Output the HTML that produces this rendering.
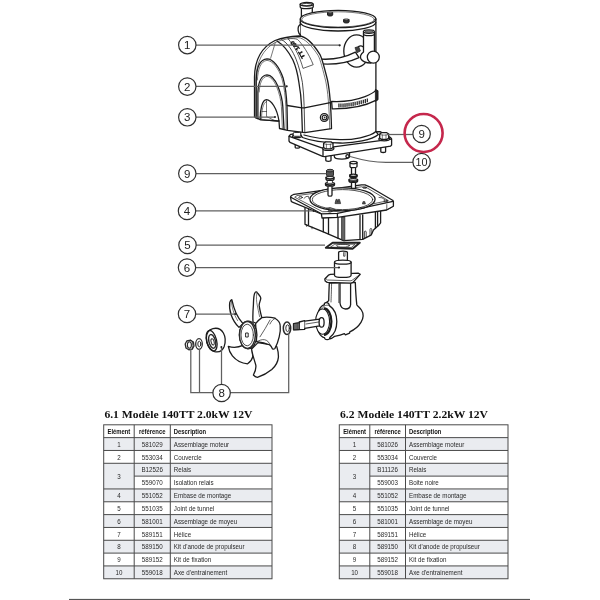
<!DOCTYPE html>
<html>
<head>
<meta charset="utf-8">
<title>140TT parts diagram</title>
<style>
html,body{margin:0;padding:0;background:#fff;}
body{width:600px;height:600px;overflow:hidden;font-family:"Liberation Sans",sans-serif;}
svg{display:block;filter:blur(0.55px);}
.l{fill:none;stroke:#1c1c1c;stroke-width:1.3;stroke-linecap:round;stroke-linejoin:round;}
.w{fill:#fff;stroke:#1c1c1c;stroke-width:1.3;stroke-linecap:round;stroke-linejoin:round;}
.ld{fill:none;stroke:#606060;stroke-width:1.25;}
.c{fill:#fff;stroke:#303030;stroke-width:1.2;}
.n{font-family:"Liberation Sans",sans-serif;font-size:11.5px;fill:#222;text-anchor:middle;}
.g{stroke:#4a4a4a;stroke-width:1;fill:none;}
.t{font-family:"Liberation Sans",sans-serif;font-size:7px;fill:#2a2a2a;}
.b{font-weight:bold;fill:#111;}
.m{text-anchor:middle;}
.h{font-family:"Liberation Serif",serif;font-weight:bold;font-size:11.4px;fill:#111;}
</style>
</head>
<body>
<svg width="600" height="600" viewBox="0 0 600 600">
<rect x="0" y="0" width="600" height="600" fill="#fff"/>
<!-- bottom rule -->
<rect x="69" y="598.9" width="461" height="1.6" fill="#555"/>


<!-- ===== motor base plate ===== -->
<g id="baseplate">
<!-- feet/bolts under -->
<path class="w" d="M325.8,155 V160.3 A2.6,1 0 0 0 331,160.3 V155 Z"/>
<path class="w" d="M380.8,146.5 V151.5 A2.4,1 0 0 0 385.6,151.5 V146.5 Z"/>
<path class="w" d="M295.2,144 V147.4 A2.1,0.8 0 0 0 299.4,147.4 V144 Z"/>
<!-- coupling under plate -->
<path class="w" d="M334.3,152 V156.5 A7.6,2.6 0 0 0 349.5,156.5 V151 Z"/>
<circle class="l" cx="347.5" cy="156.3" r="1.6"/>
<!-- plate -->
<path class="w" d="M289,136.2 L290.6,134.4 L300,133.4 L380,131.6 L390.6,137.6 L391.6,139 V145 L390.6,146.2 L324.6,156.6 L322.6,156.4 L290,142.4 L289,141 Z"/>
<path class="l" d="M289.2,136.4 L321.8,147.9 L324.2,148.2 L391.4,139.2"/>
<path class="l" d="M323,148.2 V156.4"/>
</g>

<!-- ===== motor (1) ===== -->
<g id="motor">
<!-- rear-left terminal post -->
<path class="w" d="M301.4,7 V17 H312.3 V7 Z"/>
<path class="w" d="M300.2,4.2 V7 A6.5,1.7 0 0 0 313.2,7 V4.2 Z"/>
<ellipse class="w" cx="306.7" cy="4.3" rx="6.5" ry="1.8"/>
<ellipse class="l" cx="306.7" cy="4.5" rx="5" ry="1.1" style="stroke-width:.7"/>
<!-- cylinder body -->
<path class="w" d="M300.3,19 V134 L302.5,137.5 C310,140.5 325,142.7 340,143 C354,143.4 372,140 378.4,134.6 L375.9,131.5 V19 Z"/>
<!-- little lug on left -->
<path class="w" d="M300.3,24.6 C298.4,25.4 297.9,28 298.2,30.6 C298.5,32.6 299.3,34 300.3,34.6"/>
<!-- lower lip of top cap -->
<path class="l" d="M300.3,22.3 A37.75,8.7 0 0 0 375.8,22.3"/>
<!-- top cap -->
<ellipse class="w" cx="338.1" cy="19" rx="37.8" ry="8.7"/>
<ellipse class="l" cx="338.1" cy="19.4" rx="36.3" ry="7.6" style="stroke-width:.6"/>
<!-- top bolts -->
<path d="M327.5,12.6 V15 A2.6,1 0 0 0 332.7,15 V12.6 Z" fill="#333" stroke="#1c1c1c" stroke-width="1"/><ellipse cx="330.1" cy="12.8" rx="2.1" ry="0.7" fill="#aaa" stroke="#1c1c1c" stroke-width=".6"/>
<path d="M343.6,19.4 V22 A2.75,1 0 0 0 349.1,22 V19.4 Z" fill="#333" stroke="#1c1c1c" stroke-width="1"/><ellipse cx="346.3" cy="19.6" rx="2.2" ry="0.7" fill="#aaa" stroke="#1c1c1c" stroke-width=".6"/>
<!-- side boss circle -->
<ellipse class="w" cx="356.6" cy="51" rx="12.8" ry="16.2"/>
<!-- cable -->
<path class="w" d="M314,58.4 C325,60 341,59.6 355.4,52.2 L359,57.6 C345,64.2 328,65 314,63.2 Z"/>
<!-- right terminal post + elbow -->
<path class="w" d="M363.5,32 V52 C361,54 359.8,56.4 360.8,58.6 C362.4,61.6 366.4,63 371,63 L375.4,53 L374.4,50 V32 Z"/>
<ellipse class="w" cx="368.9" cy="31.6" rx="5.5" ry="1.8"/>
<ellipse cx="368.9" cy="31.7" rx="4" ry="1" fill="#888" stroke="#2b2b2b" stroke-width=".6"/>
<path class="l" d="M363.5,34 A5.45,1.7 0 0 0 374.4,34"/>
<circle class="w" cx="373.3" cy="57.1" r="6"/>
<!-- connector -->
<path d="M355,47.6 L358.6,46.6 L360.4,51 L356.8,52.8 Z" fill="#444" stroke="#2b2b2b" stroke-width=".8"/>
<path class="l" d="M358.6,46.6 C360,45.6 362,46 363.4,47"/>
<!-- hose clamp band -->
<path class="w" d="M331.6,101.4 C343,102 356,100 365,96.6 C370,94.6 374,92.4 375.8,90.4 L377.6,91 V99.4 L375.8,100.4 C366,105.6 349,109 332.2,108.8 Z"/>
<path d="M375.4,89.4 L377.9,90.6 V99.8 L375.4,101.4 Z" fill="#222" stroke="#1c1c1c" stroke-width=".8" stroke-linejoin="round"/>
<g fill="#222"><path d="M338.3,103.6h1.25v3.8h-1.25z M340.3,103.5h1.25v3.8h-1.25z M342.4,103.4h1.25v3.8h-1.25z M344.4,103.2h1.25v3.8h-1.25z M346.4,103.0h1.25v3.8h-1.25z M348.4,102.7h1.25v3.8h-1.25z M350.5,102.4h1.25v3.8h-1.25z M352.5,102.1h1.25v3.8h-1.25z M354.5,101.7h1.25v3.8h-1.25z M356.6,101.3h1.25v3.8h-1.25z M358.6,100.8h1.25v3.8h-1.25z M360.6,100.3h1.25v3.8h-1.25z M362.7,99.7h1.25v3.8h-1.25z M364.7,99.1h1.25v3.8h-1.25z M366.7,98.5h1.25v3.8h-1.25z"/></g>
<!-- bottom flange arc -->
<path class="l" d="M375.9,131.5 C370,137 352,140 340,139.6 C326,139.3 312,137.5 304,135"/>
</g>

<!-- ===== cover (2) ===== -->
<g id="cover">
<!-- silhouette fill -->
<path class="w" d="M254.5,117 L254.5,77 C254.8,60 262,47 275,40.5 C283,37.5 292,36.3 299,36 C306,36 314,45 320,54.6 C322,58 325,70 327.5,80 C329.6,90 331,106 331.5,128.6 L304.8,132.6 L287.5,130.3 L279.5,128.5 L279,121 L260.2,119.6 Z"/>
<!-- inner parallel of silhouette -->
<path class="l" style="stroke-width:.6" d="M256,118 L256,78 C256.4,62 263,49 275.5,42.3 C283,39.3 291,38 298,37.6 C304.6,37.8 312.4,46.4 318.2,55.6 C320.2,59 323.2,71 325.7,81 C327.8,91 329.2,106 329.7,128.8"/>
<!-- crease -->
<path class="l" style="stroke-width:.6" d="M275.3,42.6 L270.6,58.3"/>
<!-- A2 arch (double) -->
<path class="l" d="M256.2,118.3 L256.2,80 C256.5,68 260,59.3 267,58.8 C273,58.8 279.5,67 283.2,78.3 C285.6,87 286.6,97 287,106.6 L287.5,129.6"/>
<path class="l" style="stroke-width:.6" d="M257.4,80 C257.8,69 261,60.8 267,60.4 C272.5,60.6 278.5,68 282,78.8 C284.4,87.5 285.4,97 285.8,106.6 L286.2,129.2"/>
<!-- A3 arch (double) -->
<path class="l" d="M257.9,118.8 L257.9,92 C258.3,82 261.5,75 267,74.8 C271,75 275,79.5 277.8,86 C280.6,93 282.4,100 282.8,106.6 L284,128.9"/>
<path class="l" style="stroke-width:.6" d="M259.2,92 C259.6,83 262.3,76.6 267,76.4 C270.5,76.6 274,80.5 276.6,86.6 C279.2,93 281,100 281.4,106.6 L282.4,128.7"/>
<!-- small arch opening -->
<path class="w" d="M260.2,119.6 C260,110 262,99.8 266.5,99.6 C271,99.8 277,108 279,121 Z"/>
<path class="l" style="stroke-width:.6" d="M261.6,119.2 C261.4,111 263,102.5 266.5,101.5"/>
<path class="l" style="stroke-width:.6" d="M266.5,101 V116.6 L274.5,120.4 M262,111.5 H266.5"/>
<!-- front/side edge -->
<path class="l" d="M277,41 C283,44.6 288.6,51.6 292.8,59.8 C296,66.6 297.8,75 298.9,82.5 C300.2,90 301.2,98 301.5,105.3 L302.4,131.8"/>
<path class="l" style="stroke-width:.8" d="M281.6,39.6 C288,43 293,51.6 296.3,59.8 C299,66.6 301,75 302.4,82.5 C303.4,90 303.9,98 304.1,105.3 L304.8,132.2"/>
<!-- seam -->
<path class="l" d="M287.3,105.5 L302,107.9 L304.4,107.9 L330.3,102.6"/>
<!-- screw -->
<circle class="w" cx="324.3" cy="117.5" r="3.9"/><circle class="l" cx="324.5" cy="117.5" r="2.3" style="stroke-width:1.1"/><circle cx="324.6" cy="117.5" r="0.9" fill="#333"/>
<!-- label -->
<path class="w" style="stroke-width:.7" d="M288.2,38.9 C292,38.2 295,38.6 297.5,39.4 C302,43.5 309,54 313.2,64.7 L303,68.4 C300,57 294.5,46 288.2,38.9 Z"/>
<path id="lblp" d="M305.2,57.2 Q299.6,46.6 291.6,39.2" fill="none"/>
<text style="font-family:'Liberation Sans',sans-serif;font-weight:bold;font-size:5.3px;fill:#111;stroke:#111;stroke-width:.4"><textPath href="#lblp" textLength="21" lengthAdjust="spacingAndGlyphs">TT 140</textPath></text>
</g>

<!-- nuts on base plate corners -->
<g id="platebolts">
<!-- front nut -->
<ellipse class="w" cx="328.3" cy="148.4" rx="5.6" ry="1.9"/>
<path class="w" d="M323.6,143.3 L325.6,141.9 H331 L333,143.3 V147.6 L331,148.8 H325.6 L323.6,147.6 Z"/>
<path class="l" style="stroke-width:.6" d="M326.4,144 V148.6 M330.4,144 V148.6 M323.6,143.6 L326.4,144.4 H330.4 L333,143.6"/>
<!-- right nut -->
<ellipse class="w" cx="384.2" cy="139" rx="5.4" ry="1.8"/>
<path class="w" d="M379.7,134 L381.6,132.7 H386.8 L388.7,134 V138.2 L386.8,139.4 H381.6 L379.7,138.2 Z"/>
<path class="l" style="stroke-width:.6" d="M382.3,134.8 V139.2 M386,134.8 V139.2 M379.7,134.3 L382.3,135.1 H386 L388.7,134.3"/>
<!-- left-back nut -->
<ellipse class="w" cx="297" cy="136.3" rx="4.5" ry="1.4"/>
<path class="w" d="M293.4,133 L294.6,132.4 H299.6 L300.8,133 V135.6 L299.6,136.3 H294.6 L293.4,135.6 Z" style="stroke-width:1"/>
</g>

<!-- ===== mounting base (4) ===== -->
<g id="mount">
<!-- body under plate -->
<path class="w" d="M305,204 V224.3 L323.3,231.8 L343.6,240.6 L362.7,239.3 L371,235.2 L373.5,230 L378.7,225.3 L380.6,222.8 V206 Z"/>
<!-- left face ribs -->
<path class="l" d="M308.5,207 V224.8 M323.3,218 V231.8"/>
<path class="l" style="stroke-width:.7" d="M306.6,224.6 V226.4 M312,227 V228.8"/>
<!-- front corner edge (dark) -->
<path d="M341.6,217 V239.6 L344.8,240.8 V217 Z" fill="#666" stroke="#2b2b2b" stroke-width=".8"/>
<path class="l" d="M328.5,218.5 V233.8 M338,217.5 V238.2"/>
<!-- right face ribs -->
<path class="l" d="M360,215.5 V239.4 M362.7,215 V239.2"/>
<path class="l" style="stroke-width:.8" d="M364.4,238.4 V232 A0.9,0.9 0 0 1 366.2,232 V237.6 M370,235.6 V229.4 A0.9,0.9 0 0 1 371.8,229.4 V234"/>
<path class="l" d="M375.4,212 V228.4 M377.6,211.6 V226.4"/>
<!-- plate -->
<path class="w" d="M290.5,197 L291.2,195.8 L294,194.3 L361.5,184.9 L365,184.8 L369.5,186.8 L392.6,200.2 L393.4,201.4 V206.2 L392,207 L386.7,210 L337.6,217.4 L322,218 L321.4,214 L292.4,202.2 L291.2,201.2 Z"/>
<!-- top surface edges -->
<path class="l" d="M290.8,197.3 L321.5,213.8 L337.4,213.3 L393,201.4"/>
<path class="l" d="M337.4,213.3 V217.3"/>
<path class="l" style="stroke-width:.7" d="M386.8,204.6 V209.8 L392,207.2"/>
<!-- inner rim of plate -->
<path class="l" style="stroke-width:.7" d="M295,197 L297,195.6 L361.6,186.8 L367.6,188.2 L388.4,200.6 L337,211.4 L323,211.7 Z"/>
<!-- ellipse opening -->
<ellipse class="w" cx="342.5" cy="199.3" rx="32.6" ry="11.5"/>
<ellipse class="l" cx="342.5" cy="199.6" rx="30.2" ry="10" style="stroke-width:.8"/>
<!-- bosses on rim -->
<path d="M335,203.6 L336,199.4 H337.2 L337.7,202.2 L338.3,199.4 H339.5 L340.6,203.6 Z" fill="#555" stroke="#222" stroke-width=".7"/>
<path d="M362.4,204 L363,201.6 H364.8 L365.4,204 Z" fill="#555" stroke="#222" stroke-width=".6"/>
<path class="l" style="stroke-width:.7" d="M304,198.4 L306,196.6 L308.4,196.3 L309,198.6 M326,208.6 L330,207.4 L334.6,209.2"/>
<path class="l" style="stroke-width:.7" d="M357,209.6 L360,207.4 L364,208.2 M379,197.4 L382,197.8 L384.6,199.6"/>
<ellipse class="l" cx="300.6" cy="197.4" rx="1.8" ry=".9" style="stroke-width:.8"/>
<ellipse class="l" cx="364.6" cy="187.6" rx="1.8" ry=".8" style="stroke-width:.8"/>
<ellipse class="l" cx="385.6" cy="201" rx="1.8" ry=".9" style="stroke-width:.8"/>
<ellipse class="l" cx="330" cy="211.2" rx="2" ry=".9" style="stroke-width:.8"/>
</g>

<!-- ===== fixing bolts (9) ===== -->
<g id="bolts">
<!-- bolt A -->
<path class="w" d="M328,176 V195 A2,1.2 0 0 0 332,195 V176 Z"/>
<path class="w" d="M325.5,183.6 A4.5,1.3 0 0 0 334.5,183.6 V184.9 A4.5,1.3 0 0 1 325.5,184.9 Z"/><ellipse class="w" cx="330" cy="183.6" rx="4.5" ry="1.3"/>
<path class="w" d="M327.6,178 H332.4 V183.4 H327.6 Z" style="stroke-width:.7"/>
<path class="w" d="M326,177.6 A4,1.2 0 0 0 334,177.6 V179.2 A4,1.2 0 0 1 326,179.2 Z"/><ellipse class="w" cx="330" cy="177.6" rx="4" ry="1.2"/>
<path d="M326.5,170.6 V175.2 A3.5,1.3 0 0 0 333.5,175.2 V170.6 Z" fill="#555" stroke="#2b2b2b" stroke-width="1"/>
<ellipse cx="330" cy="170.6" rx="3.5" ry="1.3" fill="#777" stroke="#2b2b2b" stroke-width="1"/>
<!-- bolt B -->
<path class="w" d="M351.5,166 V188.5 H355.5 V166 Z"/>
<path class="w" d="M349,179.8 A4.3,1.2 0 0 0 357.6,179.8 V181.2 A4.3,1.2 0 0 1 349,181.2 Z"/><ellipse class="w" cx="353.3" cy="179.8" rx="4.3" ry="1.2"/>
<path class="w" d="M349.7,175.2 A3.7,1.1 0 0 0 357.1,175.2 V176.4 A3.7,1.1 0 0 1 349.7,176.4 Z"/><ellipse class="w" cx="353.4" cy="175.2" rx="3.7" ry="1.1"/>
<path class="w" d="M350,162.6 V166.4 A3.5,1.2 0 0 0 357,166.4 V162.6 Z"/>
<ellipse class="w" cx="353.5" cy="162.6" rx="3.5" ry="1.2"/>
</g>

<!-- ===== tunnel gasket (5) ===== -->
<g id="gasket">
<path d="M325.8,247.8 L332.6,242.8 H359.8 L352.6,248.8 Z" fill="#fff" stroke="#222" stroke-width="1.9" stroke-linejoin="round"/>
<path class="l" style="stroke-width:.7" d="M330.6,247 L334.8,244.2 H355.2 L351.4,247.4 Z"/>
<ellipse class="l" cx="343" cy="245.7" rx="6.6" ry="1.4" style="stroke-width:.7"/>
</g>

<!-- ===== gearleg ===== -->
<g id="gearleg">
<!-- column + housing body -->
<path class="w" d="M329.3,283 C329,290 328.8,296 328.7,300.7 L325,303.5 L322,309 L330,338.8 C332,338.4 333.4,337 334.6,336.4 C338,335.8 341,335.2 344.4,333.6 L345.4,334.8 L349.6,333.2 L349.8,331.8 C354,330 358.4,326.6 361,322.4 C363.6,318 363.4,313 361.4,310 C359.6,307.4 357.4,306 356.8,304.7 C356,298 355.6,290 355.3,282.4 Z"/>
<path class="l" d="M340,283.4 V303 C340.4,306.6 342.6,308.8 345.6,309 C348.6,309 350.4,307 350.6,304.6 M350.6,283 V305"/>
<path class="l" style="stroke-width:.7" d="M338.8,284 V302.6"/>
<path class="l" style="stroke-width:.7" d="M331.6,283.4 C331.4,292 331.2,298 331,302"/>
<!-- flange under hub -->
<path class="w" d="M324.8,279 L328.4,275.2 L330.4,274.4 L358.4,273.2 L360.2,274.4 L353,282.4 L351,283.2 L327.2,282.4 L325.2,281 Z"/>
<path class="l" style="stroke-width:.7" d="M325.4,278.2 L327.4,280 L351,280.8 L352.8,279.8 L359.8,274.6"/>
<!-- flange ring with lugs -->
<path class="w" d="M324.4,303.4 C325.4,302.4 327.6,302.4 328.6,303.6 L329.4,305.6 C334.4,309 336.8,315 336.8,321.6 C336.8,328.6 334.2,334.4 330,337.2 L329.4,338.8 C328.4,340 326,340 325,338.8 L324.4,337.6 C320,337 316.6,330 316.6,321.6 C316.6,313.4 320,305.6 324.4,304.8 Z"/>
<path class="l" style="stroke-width:.7" d="M329.4,305.6 C326,303.6 322,307 320,312"/>
<ellipse class="w" cx="322.6" cy="321.6" rx="7" ry="12.6" style="stroke-width:1.1"/>
<path d="M324,308.4 A7.4,13.2 0 0 1 324,334.8" fill="none" stroke="#1c1c1c" stroke-width="2.2"/>

<!-- shaft -->
<path class="w" d="M293.5,323.6 V329.8 L299.3,329.6 L304.6,329.4 L304.8,328.4 L319.6,325.8 V319.2 L304.8,321.2 L304.6,320.6 L299.3,322 L299.3,322.8 Z"/>
<path d="M293.5,323.6 V329.8 L299.3,329.6 V322.8 Z" fill="#888" stroke="#1c1c1c" stroke-width=".9"/>
<path class="l" style="stroke-width:.5" d="M294.8,323.6 V329.6 M296.2,323.4 V329.6 M297.6,323.2 V329.6"/>
<path class="l" style="stroke-width:.7" d="M304.7,320.8 V329.2 M299.3,322 V329.6 M306,324 L318.6,322"/>
<ellipse class="w" cx="321.6" cy="322.4" rx="2.5" ry="4.8"/>
</g>

<!-- ===== hub (6) ===== -->
<g id="hub">
<path class="w" d="M338.6,252.4 V262.5 H347.4 V252.4 A4.4,1.2 0 0 0 338.6,252.4 Z"/>
<path class="l" style="stroke-width:.7" d="M343.6,252.6 V256.2 H345 V252.4"/>
<path class="w" d="M334.5,262.2 V275.2 A8.3,2.2 0 0 0 351.1,275.2 V262.2 Z"/>
<ellipse class="w" cx="342.8" cy="262.2" rx="8.3" ry="2"/>
</g>

<!-- ===== propeller (7) + anode kit (8) ===== -->
<g id="prop">
<!-- blade 2 (top) -->
<path class="w" d="M253,322 C252.6,316 253,310 253.4,305 C253.6,300 253.6,296 254.6,293.6 C255.2,291.6 256.6,291.4 257.4,292.8 C258.8,294.6 260.6,296.4 260.8,298 C260.8,300.6 259,302.6 259.2,305.4 C259.6,309.6 260.8,313.6 261.8,317.6 L258,324 Z"/>
<path class="l" style="stroke-width:.6" d="M256.8,293.4 C256.2,297.6 256.4,301.6 257.2,305 C257.8,308.6 258.8,312.6 259.6,316.6"/>
<!-- blade 1 (upper-left, thin) -->
<path class="w" d="M231.8,299.6 C232.8,304 234.2,309 236,313 C237.8,317 240.2,320.6 243,323.6 L239,327.4 C235.4,324 232.8,319.6 231.2,315 C229.8,311 229.2,306 229.8,302.4 C230.2,300.8 230.8,299.8 231.8,299.6 Z"/>
<path class="l" style="stroke-width:.6" d="M231.4,301 C231.8,307 233.6,314 237.6,320.6"/>
<!-- blade 5 (lower-left) -->
<path class="w" d="M243,345.4 C238,347.6 232.4,347.6 228.3,346.4 C228.8,350 230.2,353 232.4,355.8 C236,360.2 241.6,363.2 247.6,363.8 C250.4,362 252,359.6 252.8,356.6 L252,349 Z"/>
<!-- blade 4 (bottom, broad) -->
<path class="w" d="M251.6,349 C252.4,355 254.6,360.4 255.8,365.2 C256.4,369 254.8,372.4 253.4,375 C254.6,376.4 256,377.2 257.4,377.4 C263,375.6 268,372.8 271.8,369.6 C275.8,366 278,361.6 278.4,357.4 C278.6,353.2 277.8,349.8 276.8,346.6 L270,344.6 L258,342.6 Z"/>
<!-- blade 3 (right, broad) -->
<path class="w" d="M255.6,323.6 C257.4,321.4 259.6,319.2 261.8,317.6 C265.6,317 270.6,317.2 275,318.2 C278.4,320.2 280,322.6 280.2,325.4 C280.6,329 280.2,333 279.2,336.8 C278.2,341 276.8,345 275,348.4 C274.2,349.2 273.2,349.4 272.4,348.8 C271.8,347.4 271,346 270,345 C266,343.4 261,342.2 256.6,341.6 Z"/>
<path class="l" style="stroke-width:.7" d="M270,320 C267,325.6 263.6,331.4 260,336.8 M275,318.4 C272,320 271,322 270,324"/>
<path class="l" style="stroke-width:.7" d="M256.8,341.8 C262,338.4 268,338.4 270,345"/>
<!-- hub -->
<ellipse class="w" cx="248.2" cy="335" rx="8.7" ry="13.8"/>
<ellipse cx="247.4" cy="335" rx="8" ry="13.4" fill="#fff" stroke="#2b2b2b" stroke-width="1.5"/>
<ellipse class="l" cx="247.2" cy="335" rx="6.2" ry="10.8" style="stroke-width:.8"/>
<path d="M245.6,333 H248.2 V337 H245.6 Z" fill="#fff" stroke="#2b2b2b" stroke-width="1"/>
<!-- washer on shaft side -->
<ellipse cx="287" cy="328.2" rx="3.7" ry="6.2" fill="#fff" stroke="#2b2b2b" stroke-width="1.5"/>
<ellipse class="l" cx="287.6" cy="328.2" rx="1.8" ry="3.4" style="stroke-width:.9"/>
<!-- anode -->
<path class="w" d="M213,328.6 C217,327.6 221,329 223.4,333 C225.4,336.6 225.6,342 224.2,346.4 C222.6,350.4 219,352.6 214.6,351.6 C210,350.4 206.4,344 206.4,338 C206.4,333.4 209,329.6 213,328.6 Z"/>
<ellipse class="l" cx="211.6" cy="340.8" rx="5" ry="10.6" transform="rotate(-14 211.6 340.8)"/>
<ellipse cx="212.2" cy="341.4" rx="3.3" ry="7" transform="rotate(-14 212.2 341.4)" fill="#fff" stroke="#2b2b2b" stroke-width="1.4"/>
<ellipse cx="212.6" cy="341.8" rx="1.5" ry="3.2" transform="rotate(-14 212.6 341.8)" fill="#fff" stroke="#2b2b2b" stroke-width="1"/>
<!-- small washer -->
<ellipse cx="199" cy="344" rx="3.3" ry="5.3" fill="#fff" stroke="#2b2b2b" stroke-width="1.3"/>
<ellipse class="l" cx="199.3" cy="344" rx="1.5" ry="2.8" style="stroke-width:.9"/>
<!-- nut -->
<path d="M185.2,344 L186.8,341 L190.6,340.2 L193.4,342 L194,346 L192.4,349 L188.8,349.8 L186,348 Z" fill="#fff" stroke="#2b2b2b" stroke-width="1.3" stroke-linejoin="round"/>
<ellipse cx="189.4" cy="345" rx="2" ry="3.2" fill="#fff" stroke="#2b2b2b" stroke-width="1.1"/>
<path class="l" style="stroke-width:.7" d="M190.6,340.2 L192.4,341.6 L192.8,345.6 L192.4,349"/>
</g>

<!-- ===== leader lines ===== -->
<g class="ld">
<path d="M195,45.2 H339.5"/>
<path d="M195,86.3 H286.5"/>
<path d="M195,117.2 H275"/>
<path d="M195,173.5 H326.4"/>
<path d="M195,210.9 H313"/>
<path d="M195,245 H325"/>
<path d="M195,267.5 H339"/>
<path d="M195,314 H235"/>
<path d="M387,134.5 H413"/>
<path d="M350,156.5 C362,160 372,162.4 386,162.4 H413"/>
<path d="M190.8,349 V392.6 H213 M199.5,349 V392.6 M221.5,347 V384 M230,392.6 H288.7 V333"/>
</g>
<g fill="#222">
<circle cx="339.7" cy="45.3" r="1.1"/><circle cx="286.7" cy="86.3" r="1.1"/><circle cx="275" cy="117" r="1"/>
<circle cx="313.6" cy="210.9" r="1"/><circle cx="339" cy="267.5" r="1.1"/><circle cx="235.4" cy="314" r="1"/>
<circle cx="221.4" cy="347" r="1"/>
</g>

<!-- ===== callouts ===== -->
<g>
<circle class="c" cx="187.3" cy="45.1" r="8.7"/><text class="n" x="187.3" y="49.2">1</text>
<circle class="c" cx="187.3" cy="86.6" r="8.7"/><text class="n" x="187.3" y="90.7">2</text>
<circle class="c" cx="187.3" cy="117.3" r="8.7"/><text class="n" x="187.3" y="121.4">3</text>
<circle class="c" cx="187.3" cy="173.5" r="8.7"/><text class="n" x="187.3" y="177.6">9</text>
<circle class="c" cx="187" cy="211" r="8.7"/><text class="n" x="187" y="215.1">4</text>
<circle class="c" cx="187.5" cy="245" r="8.7"/><text class="n" x="187.5" y="249.1">5</text>
<circle class="c" cx="187" cy="267.6" r="8.7"/><text class="n" x="187" y="271.7">6</text>
<circle class="c" cx="187" cy="314" r="8.7"/><text class="n" x="187" y="318.1">7</text>
<circle class="c" cx="221.6" cy="393" r="8.7"/><text class="n" x="221.6" y="397.1">8</text>
<circle class="c" cx="421.6" cy="134" r="8.7"/><text class="n" x="421.6" y="138.1">9</text>
<circle class="c" cx="421.6" cy="162" r="8.7"/><text class="n" x="421.6" y="166.1" textLength="12" lengthAdjust="spacingAndGlyphs">10</text>
<circle cx="423.6" cy="133" r="19" fill="none" stroke="#c5274c" stroke-width="2.6"/>
</g>


<!-- tables -->
<text transform="translate(104.4,418.2) scale(1.02,1)" class="h">6.1 Modèle 140TT 2.0kW 12V</text>
<rect x="103.7" y="437.63" width="168.3" height="12.83" fill="#eaecf0"/>
<rect x="103.7" y="463.29" width="168.3" height="12.83" fill="#eaecf0"/>
<rect x="103.7" y="488.95" width="168.3" height="12.83" fill="#eaecf0"/>
<rect x="103.7" y="514.61" width="168.3" height="12.83" fill="#eaecf0"/>
<rect x="103.7" y="540.27" width="168.3" height="12.83" fill="#eaecf0"/>
<rect x="103.7" y="565.93" width="168.3" height="12.83" fill="#eaecf0"/>
<rect x="103.7" y="463.29" width="30.499999999999986" height="25.66" fill="#eaecf0"/>
<rect x="103.7" y="424.8" width="168.3" height="153.96" fill="none" class="g"/>
<line x1="103.7" y1="437.63" x2="272.0" y2="437.63" class="g"/>
<line x1="103.7" y1="450.46" x2="272.0" y2="450.46" class="g"/>
<line x1="103.7" y1="463.29" x2="272.0" y2="463.29" class="g"/>
<line x1="134.2" y1="476.12" x2="272.0" y2="476.12" class="g"/>
<line x1="103.7" y1="488.95" x2="272.0" y2="488.95" class="g"/>
<line x1="103.7" y1="501.78" x2="272.0" y2="501.78" class="g"/>
<line x1="103.7" y1="514.61" x2="272.0" y2="514.61" class="g"/>
<line x1="103.7" y1="527.44" x2="272.0" y2="527.44" class="g"/>
<line x1="103.7" y1="540.27" x2="272.0" y2="540.27" class="g"/>
<line x1="103.7" y1="553.10" x2="272.0" y2="553.10" class="g"/>
<line x1="103.7" y1="565.93" x2="272.0" y2="565.93" class="g"/>
<line x1="134.2" y1="424.8" x2="134.2" y2="578.76" class="g"/>
<line x1="170.3" y1="424.8" x2="170.3" y2="578.76" class="g"/>
<text transform="translate(118.9,433.8) scale(0.84,1.1)" class="t b m">Elément</text>
<text transform="translate(152.2,433.8) scale(0.84,1.1)" class="t b m">référence</text>
<text transform="translate(173.8,433.8) scale(0.84,1.1)" class="t b">Description</text>
<text transform="translate(118.9,446.6) scale(0.89,1.1)" class="t m">1</text>
<text transform="translate(152.2,446.6) scale(0.89,1.1)" class="t m">581029</text>
<text transform="translate(173.8,446.6) scale(0.89,1.1)" class="t">Assemblage moteur</text>
<text transform="translate(118.9,459.5) scale(0.89,1.1)" class="t m">2</text>
<text transform="translate(152.2,459.5) scale(0.89,1.1)" class="t m">553034</text>
<text transform="translate(173.8,459.5) scale(0.89,1.1)" class="t">Couvercle</text>
<text transform="translate(118.9,478.7) scale(0.89,1.1)" class="t m">3</text>
<text transform="translate(152.2,472.3) scale(0.89,1.1)" class="t m">B12526</text>
<text transform="translate(173.8,472.3) scale(0.89,1.1)" class="t">Relais</text>
<text transform="translate(152.2,485.1) scale(0.89,1.1)" class="t m">559070</text>
<text transform="translate(173.8,485.1) scale(0.89,1.1)" class="t">Isolation relais</text>
<text transform="translate(118.9,498.0) scale(0.89,1.1)" class="t m">4</text>
<text transform="translate(152.2,498.0) scale(0.89,1.1)" class="t m">551052</text>
<text transform="translate(173.8,498.0) scale(0.89,1.1)" class="t">Embase de montage</text>
<text transform="translate(118.9,510.8) scale(0.89,1.1)" class="t m">5</text>
<text transform="translate(152.2,510.8) scale(0.89,1.1)" class="t m">551035</text>
<text transform="translate(173.8,510.8) scale(0.89,1.1)" class="t">Joint de tunnel</text>
<text transform="translate(118.9,523.6) scale(0.89,1.1)" class="t m">6</text>
<text transform="translate(152.2,523.6) scale(0.89,1.1)" class="t m">581001</text>
<text transform="translate(173.8,523.6) scale(0.89,1.1)" class="t">Assemblage de moyeu</text>
<text transform="translate(118.9,536.5) scale(0.89,1.1)" class="t m">7</text>
<text transform="translate(152.2,536.5) scale(0.89,1.1)" class="t m">589151</text>
<text transform="translate(173.8,536.5) scale(0.89,1.1)" class="t">Hélice</text>
<text transform="translate(118.9,549.3) scale(0.89,1.1)" class="t m">8</text>
<text transform="translate(152.2,549.3) scale(0.89,1.1)" class="t m">589150</text>
<text transform="translate(173.8,549.3) scale(0.89,1.1)" class="t">Kit d'anode de propulseur</text>
<text transform="translate(118.9,562.1) scale(0.89,1.1)" class="t m">9</text>
<text transform="translate(152.2,562.1) scale(0.89,1.1)" class="t m">589152</text>
<text transform="translate(173.8,562.1) scale(0.89,1.1)" class="t">Kit de fixation</text>
<text transform="translate(118.9,574.9) scale(0.89,1.1)" class="t m">10</text>
<text transform="translate(152.2,574.9) scale(0.89,1.1)" class="t m">559018</text>
<text transform="translate(173.8,574.9) scale(0.89,1.1)" class="t">Axe d'entrainement</text>
<text transform="translate(340.0,418.2) scale(1.02,1)" class="h">6.2 Modèle 140TT 2.2kW 12V</text>
<rect x="339.3" y="437.63" width="168.7" height="12.83" fill="#eaecf0"/>
<rect x="339.3" y="463.29" width="168.7" height="12.83" fill="#eaecf0"/>
<rect x="339.3" y="488.95" width="168.7" height="12.83" fill="#eaecf0"/>
<rect x="339.3" y="514.61" width="168.7" height="12.83" fill="#eaecf0"/>
<rect x="339.3" y="540.27" width="168.7" height="12.83" fill="#eaecf0"/>
<rect x="339.3" y="565.93" width="168.7" height="12.83" fill="#eaecf0"/>
<rect x="339.3" y="463.29" width="30.5" height="25.66" fill="#eaecf0"/>
<rect x="339.3" y="424.8" width="168.7" height="153.96" fill="none" class="g"/>
<line x1="339.3" y1="437.63" x2="508.0" y2="437.63" class="g"/>
<line x1="339.3" y1="450.46" x2="508.0" y2="450.46" class="g"/>
<line x1="339.3" y1="463.29" x2="508.0" y2="463.29" class="g"/>
<line x1="369.8" y1="476.12" x2="508.0" y2="476.12" class="g"/>
<line x1="339.3" y1="488.95" x2="508.0" y2="488.95" class="g"/>
<line x1="339.3" y1="501.78" x2="508.0" y2="501.78" class="g"/>
<line x1="339.3" y1="514.61" x2="508.0" y2="514.61" class="g"/>
<line x1="339.3" y1="527.44" x2="508.0" y2="527.44" class="g"/>
<line x1="339.3" y1="540.27" x2="508.0" y2="540.27" class="g"/>
<line x1="339.3" y1="553.10" x2="508.0" y2="553.10" class="g"/>
<line x1="339.3" y1="565.93" x2="508.0" y2="565.93" class="g"/>
<line x1="369.8" y1="424.8" x2="369.8" y2="578.76" class="g"/>
<line x1="405.5" y1="424.8" x2="405.5" y2="578.76" class="g"/>
<text transform="translate(354.6,433.8) scale(0.84,1.1)" class="t b m">Elément</text>
<text transform="translate(387.6,433.8) scale(0.84,1.1)" class="t b m">référence</text>
<text transform="translate(409.0,433.8) scale(0.84,1.1)" class="t b">Description</text>
<text transform="translate(354.6,446.6) scale(0.89,1.1)" class="t m">1</text>
<text transform="translate(387.6,446.6) scale(0.89,1.1)" class="t m">581026</text>
<text transform="translate(409.0,446.6) scale(0.89,1.1)" class="t">Assemblage moteur</text>
<text transform="translate(354.6,459.5) scale(0.89,1.1)" class="t m">2</text>
<text transform="translate(387.6,459.5) scale(0.89,1.1)" class="t m">553034</text>
<text transform="translate(409.0,459.5) scale(0.89,1.1)" class="t">Couvercle</text>
<text transform="translate(354.6,478.7) scale(0.89,1.1)" class="t m">3</text>
<text transform="translate(387.6,472.3) scale(0.89,1.1)" class="t m">B11126</text>
<text transform="translate(409.0,472.3) scale(0.89,1.1)" class="t">Relais</text>
<text transform="translate(387.6,485.1) scale(0.89,1.1)" class="t m">559003</text>
<text transform="translate(409.0,485.1) scale(0.89,1.1)" class="t">Boite noire</text>
<text transform="translate(354.6,498.0) scale(0.89,1.1)" class="t m">4</text>
<text transform="translate(387.6,498.0) scale(0.89,1.1)" class="t m">551052</text>
<text transform="translate(409.0,498.0) scale(0.89,1.1)" class="t">Embase de montage</text>
<text transform="translate(354.6,510.8) scale(0.89,1.1)" class="t m">5</text>
<text transform="translate(387.6,510.8) scale(0.89,1.1)" class="t m">551035</text>
<text transform="translate(409.0,510.8) scale(0.89,1.1)" class="t">Joint de tunnel</text>
<text transform="translate(354.6,523.6) scale(0.89,1.1)" class="t m">6</text>
<text transform="translate(387.6,523.6) scale(0.89,1.1)" class="t m">581001</text>
<text transform="translate(409.0,523.6) scale(0.89,1.1)" class="t">Assemblage de moyeu</text>
<text transform="translate(354.6,536.5) scale(0.89,1.1)" class="t m">7</text>
<text transform="translate(387.6,536.5) scale(0.89,1.1)" class="t m">589151</text>
<text transform="translate(409.0,536.5) scale(0.89,1.1)" class="t">Hélice</text>
<text transform="translate(354.6,549.3) scale(0.89,1.1)" class="t m">8</text>
<text transform="translate(387.6,549.3) scale(0.89,1.1)" class="t m">589150</text>
<text transform="translate(409.0,549.3) scale(0.89,1.1)" class="t">Kit d'anode de propulseur</text>
<text transform="translate(354.6,562.1) scale(0.89,1.1)" class="t m">9</text>
<text transform="translate(387.6,562.1) scale(0.89,1.1)" class="t m">589152</text>
<text transform="translate(409.0,562.1) scale(0.89,1.1)" class="t">Kit de fixation</text>
<text transform="translate(354.6,574.9) scale(0.89,1.1)" class="t m">10</text>
<text transform="translate(387.6,574.9) scale(0.89,1.1)" class="t m">559018</text>
<text transform="translate(409.0,574.9) scale(0.89,1.1)" class="t">Axe d'entrainement</text>
</svg>
</body>
</html>
